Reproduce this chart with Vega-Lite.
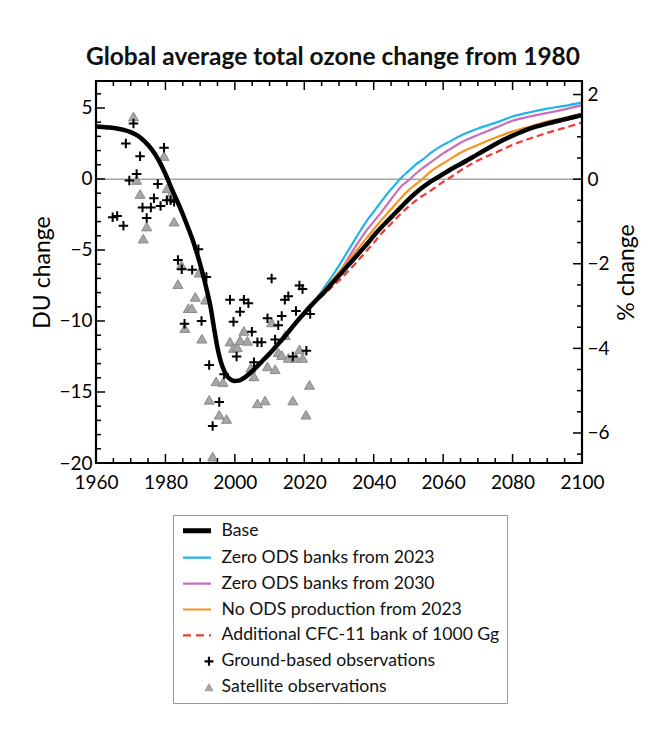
{
  "$schema": "https://vega.github.io/schema/vega-lite/v6.json",
  "width": 486,
  "height": 382,
  "autosize": {"type": "none"},
  "padding": {"left": 96, "top": 81, "right": 66, "bottom": 286},
  "background": "white",
  "title": {
    "text": "Global average total ozone change from 1980",
    "font": "Lato",
    "fontSize": 24.5,
    "fontWeight": "bold",
    "color": "#111111",
    "offset": 9,
    "anchor": "middle",
    "dx": -6
  },
  "datasets": {
    "scenarios": [
      {"series": "Base", "year": 1960, "du": 3.7},
      {"series": "Base", "year": 1962, "du": 3.66},
      {"series": "Base", "year": 1964, "du": 3.62},
      {"series": "Base", "year": 1966, "du": 3.56},
      {"series": "Base", "year": 1968, "du": 3.46},
      {"series": "Base", "year": 1970, "du": 3.3},
      {"series": "Base", "year": 1972, "du": 3.05},
      {"series": "Base", "year": 1974, "du": 2.65},
      {"series": "Base", "year": 1976, "du": 2.1},
      {"series": "Base", "year": 1978, "du": 1.35},
      {"series": "Base", "year": 1980, "du": 0.35},
      {"series": "Base", "year": 1982, "du": -0.8},
      {"series": "Base", "year": 1984, "du": -1.9},
      {"series": "Base", "year": 1986, "du": -3.1},
      {"series": "Base", "year": 1988, "du": -4.4},
      {"series": "Base", "year": 1990, "du": -6.0},
      {"series": "Base", "year": 1992, "du": -7.9},
      {"series": "Base", "year": 1993, "du": -9.0},
      {"series": "Base", "year": 1994, "du": -10.5},
      {"series": "Base", "year": 1995, "du": -11.9},
      {"series": "Base", "year": 1996, "du": -12.9},
      {"series": "Base", "year": 1997, "du": -13.55},
      {"series": "Base", "year": 1998, "du": -13.95},
      {"series": "Base", "year": 1999, "du": -14.15},
      {"series": "Base", "year": 2000, "du": -14.22},
      {"series": "Base", "year": 2001, "du": -14.2},
      {"series": "Base", "year": 2002, "du": -14.1},
      {"series": "Base", "year": 2003, "du": -13.95},
      {"series": "Base", "year": 2004, "du": -13.75},
      {"series": "Base", "year": 2006, "du": -13.3},
      {"series": "Base", "year": 2008, "du": -12.8},
      {"series": "Base", "year": 2010, "du": -12.3},
      {"series": "Base", "year": 2012, "du": -11.75},
      {"series": "Base", "year": 2014, "du": -11.2},
      {"series": "Base", "year": 2016, "du": -10.6},
      {"series": "Base", "year": 2018, "du": -10.0},
      {"series": "Base", "year": 2020, "du": -9.45},
      {"series": "Base", "year": 2022, "du": -8.9},
      {"series": "Base", "year": 2024, "du": -8.4},
      {"series": "Base", "year": 2026, "du": -7.9},
      {"series": "Base", "year": 2028, "du": -7.35},
      {"series": "Base", "year": 2030, "du": -6.8},
      {"series": "Base", "year": 2032, "du": -6.25},
      {"series": "Base", "year": 2034, "du": -5.7},
      {"series": "Base", "year": 2036, "du": -5.15},
      {"series": "Base", "year": 2038, "du": -4.6},
      {"series": "Base", "year": 2040, "du": -4.0},
      {"series": "Base", "year": 2042, "du": -3.45},
      {"series": "Base", "year": 2044, "du": -2.95},
      {"series": "Base", "year": 2046, "du": -2.45},
      {"series": "Base", "year": 2048, "du": -1.95},
      {"series": "Base", "year": 2050, "du": -1.45},
      {"series": "Base", "year": 2052, "du": -1.0},
      {"series": "Base", "year": 2054, "du": -0.6},
      {"series": "Base", "year": 2056, "du": -0.25},
      {"series": "Base", "year": 2058, "du": 0.05},
      {"series": "Base", "year": 2060, "du": 0.35},
      {"series": "Base", "year": 2062, "du": 0.65},
      {"series": "Base", "year": 2065, "du": 1.05},
      {"series": "Base", "year": 2070, "du": 1.75},
      {"series": "Base", "year": 2075, "du": 2.45},
      {"series": "Base", "year": 2080, "du": 3.05},
      {"series": "Base", "year": 2085, "du": 3.55},
      {"series": "Base", "year": 2090, "du": 3.9},
      {"series": "Base", "year": 2095, "du": 4.2},
      {"series": "Base", "year": 2100, "du": 4.5},

      {"series": "Zero ODS banks from 2023", "year": 2022, "du": -8.9},
      {"series": "Zero ODS banks from 2023", "year": 2024, "du": -8.25},
      {"series": "Zero ODS banks from 2023", "year": 2026, "du": -7.55},
      {"series": "Zero ODS banks from 2023", "year": 2028, "du": -6.85},
      {"series": "Zero ODS banks from 2023", "year": 2030, "du": -6.1},
      {"series": "Zero ODS banks from 2023", "year": 2032, "du": -5.3},
      {"series": "Zero ODS banks from 2023", "year": 2034, "du": -4.5},
      {"series": "Zero ODS banks from 2023", "year": 2036, "du": -3.7},
      {"series": "Zero ODS banks from 2023", "year": 2038, "du": -2.95},
      {"series": "Zero ODS banks from 2023", "year": 2040, "du": -2.3},
      {"series": "Zero ODS banks from 2023", "year": 2042, "du": -1.65},
      {"series": "Zero ODS banks from 2023", "year": 2044, "du": -1.0},
      {"series": "Zero ODS banks from 2023", "year": 2046, "du": -0.45},
      {"series": "Zero ODS banks from 2023", "year": 2048, "du": 0.1},
      {"series": "Zero ODS banks from 2023", "year": 2050, "du": 0.55},
      {"series": "Zero ODS banks from 2023", "year": 2052, "du": 1.0},
      {"series": "Zero ODS banks from 2023", "year": 2054, "du": 1.35},
      {"series": "Zero ODS banks from 2023", "year": 2056, "du": 1.75},
      {"series": "Zero ODS banks from 2023", "year": 2058, "du": 2.1},
      {"series": "Zero ODS banks from 2023", "year": 2060, "du": 2.4},
      {"series": "Zero ODS banks from 2023", "year": 2062, "du": 2.65},
      {"series": "Zero ODS banks from 2023", "year": 2065, "du": 3.05},
      {"series": "Zero ODS banks from 2023", "year": 2070, "du": 3.55},
      {"series": "Zero ODS banks from 2023", "year": 2075, "du": 3.95},
      {"series": "Zero ODS banks from 2023", "year": 2080, "du": 4.4},
      {"series": "Zero ODS banks from 2023", "year": 2085, "du": 4.7},
      {"series": "Zero ODS banks from 2023", "year": 2090, "du": 4.95},
      {"series": "Zero ODS banks from 2023", "year": 2095, "du": 5.15},
      {"series": "Zero ODS banks from 2023", "year": 2100, "du": 5.4},

      {"series": "Zero ODS banks from 2030", "year": 2022, "du": -8.9},
      {"series": "Zero ODS banks from 2030", "year": 2024, "du": -8.4},
      {"series": "Zero ODS banks from 2030", "year": 2026, "du": -7.85},
      {"series": "Zero ODS banks from 2030", "year": 2028, "du": -7.2},
      {"series": "Zero ODS banks from 2030", "year": 2030, "du": -6.6},
      {"series": "Zero ODS banks from 2030", "year": 2032, "du": -5.85},
      {"series": "Zero ODS banks from 2030", "year": 2034, "du": -5.05},
      {"series": "Zero ODS banks from 2030", "year": 2036, "du": -4.3},
      {"series": "Zero ODS banks from 2030", "year": 2038, "du": -3.6},
      {"series": "Zero ODS banks from 2030", "year": 2040, "du": -3.0},
      {"series": "Zero ODS banks from 2030", "year": 2042, "du": -2.4},
      {"series": "Zero ODS banks from 2030", "year": 2044, "du": -1.75},
      {"series": "Zero ODS banks from 2030", "year": 2046, "du": -1.1},
      {"series": "Zero ODS banks from 2030", "year": 2048, "du": -0.5},
      {"series": "Zero ODS banks from 2030", "year": 2050, "du": -0.1},
      {"series": "Zero ODS banks from 2030", "year": 2052, "du": 0.35},
      {"series": "Zero ODS banks from 2030", "year": 2054, "du": 0.75},
      {"series": "Zero ODS banks from 2030", "year": 2056, "du": 1.1},
      {"series": "Zero ODS banks from 2030", "year": 2058, "du": 1.45},
      {"series": "Zero ODS banks from 2030", "year": 2060, "du": 1.8},
      {"series": "Zero ODS banks from 2030", "year": 2062, "du": 2.1},
      {"series": "Zero ODS banks from 2030", "year": 2065, "du": 2.55},
      {"series": "Zero ODS banks from 2030", "year": 2070, "du": 3.1},
      {"series": "Zero ODS banks from 2030", "year": 2075, "du": 3.6},
      {"series": "Zero ODS banks from 2030", "year": 2080, "du": 4.1},
      {"series": "Zero ODS banks from 2030", "year": 2085, "du": 4.4},
      {"series": "Zero ODS banks from 2030", "year": 2090, "du": 4.65},
      {"series": "Zero ODS banks from 2030", "year": 2095, "du": 4.9},
      {"series": "Zero ODS banks from 2030", "year": 2100, "du": 5.2},

      {"series": "No ODS production from 2023", "year": 2022, "du": -8.9},
      {"series": "No ODS production from 2023", "year": 2024, "du": -8.35},
      {"series": "No ODS production from 2023", "year": 2026, "du": -7.75},
      {"series": "No ODS production from 2023", "year": 2028, "du": -7.15},
      {"series": "No ODS production from 2023", "year": 2030, "du": -6.55},
      {"series": "No ODS production from 2023", "year": 2032, "du": -5.95},
      {"series": "No ODS production from 2023", "year": 2034, "du": -5.35},
      {"series": "No ODS production from 2023", "year": 2036, "du": -4.75},
      {"series": "No ODS production from 2023", "year": 2038, "du": -4.15},
      {"series": "No ODS production from 2023", "year": 2040, "du": -3.55},
      {"series": "No ODS production from 2023", "year": 2042, "du": -2.95},
      {"series": "No ODS production from 2023", "year": 2044, "du": -2.4},
      {"series": "No ODS production from 2023", "year": 2046, "du": -1.85},
      {"series": "No ODS production from 2023", "year": 2048, "du": -1.3},
      {"series": "No ODS production from 2023", "year": 2050, "du": -0.8},
      {"series": "No ODS production from 2023", "year": 2052, "du": -0.4},
      {"series": "No ODS production from 2023", "year": 2054, "du": 0.0},
      {"series": "No ODS production from 2023", "year": 2056, "du": 0.45},
      {"series": "No ODS production from 2023", "year": 2058, "du": 0.8},
      {"series": "No ODS production from 2023", "year": 2060, "du": 1.1},
      {"series": "No ODS production from 2023", "year": 2062, "du": 1.4},
      {"series": "No ODS production from 2023", "year": 2065, "du": 1.85},
      {"series": "No ODS production from 2023", "year": 2070, "du": 2.4},
      {"series": "No ODS production from 2023", "year": 2075, "du": 2.9},
      {"series": "No ODS production from 2023", "year": 2080, "du": 3.35},
      {"series": "No ODS production from 2023", "year": 2085, "du": 3.7},
      {"series": "No ODS production from 2023", "year": 2090, "du": 4.05},
      {"series": "No ODS production from 2023", "year": 2095, "du": 4.3},
      {"series": "No ODS production from 2023", "year": 2100, "du": 4.6},

      {"series": "Additional CFC-11 bank of 1000 Gg", "year": 2022, "du": -8.9},
      {"series": "Additional CFC-11 bank of 1000 Gg", "year": 2024, "du": -8.5},
      {"series": "Additional CFC-11 bank of 1000 Gg", "year": 2026, "du": -8.05},
      {"series": "Additional CFC-11 bank of 1000 Gg", "year": 2028, "du": -7.6},
      {"series": "Additional CFC-11 bank of 1000 Gg", "year": 2030, "du": -7.15},
      {"series": "Additional CFC-11 bank of 1000 Gg", "year": 2032, "du": -6.65},
      {"series": "Additional CFC-11 bank of 1000 Gg", "year": 2034, "du": -6.15},
      {"series": "Additional CFC-11 bank of 1000 Gg", "year": 2036, "du": -5.6},
      {"series": "Additional CFC-11 bank of 1000 Gg", "year": 2038, "du": -5.05},
      {"series": "Additional CFC-11 bank of 1000 Gg", "year": 2040, "du": -4.5},
      {"series": "Additional CFC-11 bank of 1000 Gg", "year": 2042, "du": -3.9},
      {"series": "Additional CFC-11 bank of 1000 Gg", "year": 2044, "du": -3.4},
      {"series": "Additional CFC-11 bank of 1000 Gg", "year": 2046, "du": -2.9},
      {"series": "Additional CFC-11 bank of 1000 Gg", "year": 2048, "du": -2.4},
      {"series": "Additional CFC-11 bank of 1000 Gg", "year": 2050, "du": -1.95},
      {"series": "Additional CFC-11 bank of 1000 Gg", "year": 2052, "du": -1.55},
      {"series": "Additional CFC-11 bank of 1000 Gg", "year": 2054, "du": -1.2},
      {"series": "Additional CFC-11 bank of 1000 Gg", "year": 2056, "du": -0.9},
      {"series": "Additional CFC-11 bank of 1000 Gg", "year": 2058, "du": -0.55},
      {"series": "Additional CFC-11 bank of 1000 Gg", "year": 2060, "du": -0.2},
      {"series": "Additional CFC-11 bank of 1000 Gg", "year": 2062, "du": 0.1},
      {"series": "Additional CFC-11 bank of 1000 Gg", "year": 2065, "du": 0.6},
      {"series": "Additional CFC-11 bank of 1000 Gg", "year": 2070, "du": 1.3},
      {"series": "Additional CFC-11 bank of 1000 Gg", "year": 2075, "du": 1.85},
      {"series": "Additional CFC-11 bank of 1000 Gg", "year": 2080, "du": 2.4},
      {"series": "Additional CFC-11 bank of 1000 Gg", "year": 2085, "du": 2.85},
      {"series": "Additional CFC-11 bank of 1000 Gg", "year": 2090, "du": 3.25},
      {"series": "Additional CFC-11 bank of 1000 Gg", "year": 2095, "du": 3.6},
      {"series": "Additional CFC-11 bank of 1000 Gg", "year": 2100, "du": 3.98}
    ],
    "ground": [
      {"year": 1964.8, "du": -2.7}, {"year": 1966.1, "du": -2.6}, {"year": 1967.9, "du": -3.3},
      {"year": 1968.6, "du": 2.5}, {"year": 1969.6, "du": -0.1}, {"year": 1970.8, "du": 3.9},
      {"year": 1971.7, "du": 0.35}, {"year": 1972.7, "du": 1.6}, {"year": 1973.4, "du": -2.0},
      {"year": 1974.6, "du": -2.75}, {"year": 1975.8, "du": -2.0}, {"year": 1976.7, "du": -1.35},
      {"year": 1977.8, "du": -0.35}, {"year": 1978.6, "du": -1.9}, {"year": 1979.6, "du": 2.2},
      {"year": 1980.4, "du": -1.5}, {"year": 1981.5, "du": -1.5}, {"year": 1982.5, "du": -1.6},
      {"year": 1983.6, "du": -5.7}, {"year": 1984.7, "du": -6.35}, {"year": 1985.5, "du": -10.2},
      {"year": 1987.7, "du": -6.4}, {"year": 1989.5, "du": -4.95}, {"year": 1990.4, "du": -10.0},
      {"year": 1991.8, "du": -6.9}, {"year": 1992.6, "du": -13.1}, {"year": 1993.6, "du": -17.4},
      {"year": 1995.5, "du": -15.7}, {"year": 1996.9, "du": -13.75}, {"year": 1998.6, "du": -8.5},
      {"year": 1999.6, "du": -10.05}, {"year": 2000.5, "du": -12.5}, {"year": 2001.5, "du": -9.35},
      {"year": 2002.6, "du": -8.5}, {"year": 2003.9, "du": -8.75}, {"year": 2004.9, "du": -10.75},
      {"year": 2005.5, "du": -12.9}, {"year": 2006.5, "du": -11.5}, {"year": 2007.7, "du": -11.5},
      {"year": 2009.4, "du": -9.8}, {"year": 2010.6, "du": -7.0}, {"year": 2011.6, "du": -11.3},
      {"year": 2012.5, "du": -10.3}, {"year": 2013.5, "du": -9.65}, {"year": 2014.4, "du": -8.5},
      {"year": 2015.4, "du": -8.25}, {"year": 2016.7, "du": -12.5}, {"year": 2017.6, "du": -9.3},
      {"year": 2018.6, "du": -7.5}, {"year": 2019.5, "du": -7.75}, {"year": 2020.6, "du": -12.1},
      {"year": 2021.7, "du": -9.5}
    ],
    "satellite": [
      {"year": 1970.8, "du": 4.4}, {"year": 1971.7, "du": -0.07}, {"year": 1972.7, "du": -1.06},
      {"year": 1973.6, "du": -4.2}, {"year": 1974.6, "du": -3.35}, {"year": 1979.6, "du": 1.62},
      {"year": 1980.5, "du": -0.66}, {"year": 1981.5, "du": -1.13}, {"year": 1982.5, "du": -3.0},
      {"year": 1983.6, "du": -7.4}, {"year": 1984.6, "du": -6.06}, {"year": 1985.6, "du": -10.5},
      {"year": 1986.6, "du": -9.1}, {"year": 1987.6, "du": -9.1}, {"year": 1988.6, "du": -8.3},
      {"year": 1989.7, "du": -6.6}, {"year": 1990.5, "du": -11.25}, {"year": 1991.6, "du": -8.5},
      {"year": 1992.6, "du": -15.55}, {"year": 1993.6, "du": -19.55}, {"year": 1994.6, "du": -14.25},
      {"year": 1995.5, "du": -16.6}, {"year": 1996.6, "du": -14.3}, {"year": 1997.6, "du": -16.9},
      {"year": 1998.6, "du": -11.45}, {"year": 1999.6, "du": -11.9}, {"year": 2000.7, "du": -11.85},
      {"year": 2001.5, "du": -11.35}, {"year": 2002.6, "du": -10.7}, {"year": 2003.6, "du": -11.4},
      {"year": 2004.6, "du": -13.3}, {"year": 2005.5, "du": -13.9}, {"year": 2006.5, "du": -15.8},
      {"year": 2008.7, "du": -15.6}, {"year": 2009.4, "du": -13.2}, {"year": 2010.6, "du": -10.1},
      {"year": 2011.6, "du": -13.4}, {"year": 2012.5, "du": -12.2}, {"year": 2013.5, "du": -12.4},
      {"year": 2014.5, "du": -11.0}, {"year": 2015.4, "du": -12.6}, {"year": 2016.7, "du": -15.6},
      {"year": 2017.6, "du": -12.6}, {"year": 2018.6, "du": -12.0}, {"year": 2019.5, "du": -12.6},
      {"year": 2020.5, "du": -16.6}, {"year": 2021.5, "du": -14.5}
    ],
    "reference": [
      {"pct": 0}
    ],
    "frame": [
      {"x0": 1960, "x1": 2100, "y0": -20, "y1": 6.9}
    ],
    "yearTicks": [
      {"year": 1960, "kind": "major"}, {"year": 1965, "kind": "minor"}, {"year": 1970, "kind": "minor"}, {"year": 1975, "kind": "minor"},
      {"year": 1980, "kind": "major"}, {"year": 1985, "kind": "minor"}, {"year": 1990, "kind": "minor"}, {"year": 1995, "kind": "minor"},
      {"year": 2000, "kind": "major"}, {"year": 2005, "kind": "minor"}, {"year": 2010, "kind": "minor"}, {"year": 2015, "kind": "minor"},
      {"year": 2020, "kind": "major"}, {"year": 2025, "kind": "minor"}, {"year": 2030, "kind": "minor"}, {"year": 2035, "kind": "minor"},
      {"year": 2040, "kind": "major"}, {"year": 2045, "kind": "minor"}, {"year": 2050, "kind": "minor"}, {"year": 2055, "kind": "minor"},
      {"year": 2060, "kind": "major"}, {"year": 2065, "kind": "minor"}, {"year": 2070, "kind": "minor"}, {"year": 2075, "kind": "minor"},
      {"year": 2080, "kind": "major"}, {"year": 2085, "kind": "minor"}, {"year": 2090, "kind": "minor"}, {"year": 2095, "kind": "minor"},
      {"year": 2100, "kind": "major"}
    ],
    "duTicks": [
      {"du": -20, "kind": "major"}, {"du": -19, "kind": "minor"}, {"du": -18, "kind": "minor"}, {"du": -17, "kind": "minor"}, {"du": -16, "kind": "minor"},
      {"du": -15, "kind": "major"}, {"du": -14, "kind": "minor"}, {"du": -13, "kind": "minor"}, {"du": -12, "kind": "minor"}, {"du": -11, "kind": "minor"},
      {"du": -10, "kind": "major"}, {"du": -9, "kind": "minor"}, {"du": -8, "kind": "minor"}, {"du": -7, "kind": "minor"}, {"du": -6, "kind": "minor"},
      {"du": -5, "kind": "major"}, {"du": -4, "kind": "minor"}, {"du": -3, "kind": "minor"}, {"du": -2, "kind": "minor"}, {"du": -1, "kind": "minor"},
      {"du": 0, "kind": "major"}, {"du": 1, "kind": "minor"}, {"du": 2, "kind": "minor"}, {"du": 3, "kind": "minor"}, {"du": 4, "kind": "minor"},
      {"du": 5, "kind": "major"}, {"du": 6, "kind": "minor"}
    ],
    "pctTicks": [
      {"pct": -6.5, "kind": "minor"}, {"pct": -6, "kind": "major"}, {"pct": -5.5, "kind": "minor"}, {"pct": -5, "kind": "minor"},
      {"pct": -4.5, "kind": "minor"}, {"pct": -4, "kind": "major"}, {"pct": -3.5, "kind": "minor"}, {"pct": -3, "kind": "minor"},
      {"pct": -2.5, "kind": "minor"}, {"pct": -2, "kind": "major"}, {"pct": -1.5, "kind": "minor"}, {"pct": -1, "kind": "minor"},
      {"pct": -0.5, "kind": "minor"}, {"pct": 0, "kind": "major"}, {"pct": 0.5, "kind": "minor"}, {"pct": 1, "kind": "minor"},
      {"pct": 1.5, "kind": "minor"}, {"pct": 2, "kind": "major"}
    ]
  },
  "resolve": {
    "scale": {"y": "independent"},
    "axis": {"x": "independent", "y": "independent"}
  },
  "layer": [
    {
      "data": {"name": "reference"},
      "mark": {"type": "rule", "color": "#a3a3a3", "strokeWidth": 1.5},
      "encoding": {
        "y": {
          "field": "pct",
          "type": "quantitative",
          "scale": {"domain": [-6.71, 2.32], "nice": false, "zero": false},
          "axis": {
            "orient": "right",
            "title": "% change",
            "titleAngle": 270,
            "titleBaseline": "top",
            "titlePadding": 6,
            "values": [-6, -4, -2, 0, 2],
            "format": "d",
            "ticks": false,
            "domain": false,
            "labelPadding": 5
          }
        }
      }
    },
    {
      "data": {"name": "satellite"},
      "mark": {"type": "point", "shape": "triangle-up", "filled": true, "fill": "#a6a6a6", "stroke": "#8a8a8a", "strokeWidth": 1, "size": 100, "opacity": 1},
      "encoding": {
        "x": {"field": "year", "type": "quantitative", "scale": {"domain": [1960, 2100], "nice": false, "zero": false}, "axis": null},
        "y": {
          "field": "du",
          "type": "quantitative",
          "scale": {"domain": [-20, 6.9], "nice": false, "zero": false},
          "axis": {
            "orient": "left",
            "title": "DU change",
            "titlePadding": 4,
            "values": [-20, -15, -10, -5, 0, 5],
            "format": "d",
            "ticks": false,
            "domain": false,
            "labelPadding": 4
          }
        }
      }
    },
    {
      "data": {"name": "ground"},
      "mark": {"type": "point", "shape": "M-1,0H1M0,-1V1", "filled": false, "stroke": "#000000", "strokeWidth": 2, "size": 90, "opacity": 1},
      "encoding": {
        "x": {"field": "year", "type": "quantitative", "scale": {"domain": [1960, 2100], "nice": false, "zero": false}, "axis": null},
        "y": {"field": "du", "type": "quantitative", "scale": {"domain": [-20, 6.9], "nice": false, "zero": false}, "axis": null}
      }
    },
    {
      "data": {"name": "scenarios"},
      "transform": [{"filter": "datum.series !== 'Base' && datum.series !== 'Additional CFC-11 bank of 1000 Gg'"}],
      "mark": {"type": "line", "strokeWidth": 2.2, "interpolate": "monotone"},
      "encoding": {
        "x": {
          "field": "year",
          "type": "quantitative",
          "scale": {"domain": [1960, 2100], "nice": false, "zero": false},
          "axis": {
            "orient": "bottom",
            "title": null,
            "values": [1960, 1980, 2000, 2020, 2040, 2060, 2080, 2100],
            "format": "d",
            "ticks": false,
            "domain": false,
            "labelPadding": 10
          }
        },
        "y": {"field": "du", "type": "quantitative", "scale": {"domain": [-20, 6.9], "nice": false, "zero": false}, "axis": null},
        "color": {
          "field": "series",
          "type": "nominal",
          "sort": null,
          "scale": {
            "domain": ["Base", "Zero ODS banks from 2023", "Zero ODS banks from 2030", "No ODS production from 2023", "Additional CFC-11 bank of 1000 Gg", "Ground-based observations", "Satellite observations"],
            "range": ["#000000", "#1eb4e8", "#c66fbb", "#f7941d", "#ee3b36", "#000000", "#a6a6a6"]
          },
          "legend": {
            "orient": "none",
            "legendX": 77,
            "legendY": 434,
            "title": null,
            "padding": 7,
            "strokeColor": "#9a9a9a",
            "symbolType": "stroke",
            "symbolSize": 400,
            "rowPadding": 6.9,
            "labelOffset": 21,
            "symbolOffset": 3,
            "labelFont": "Lato",
            "labelFontSize": 17.6,
            "labelColor": "#111111",
            "labelLimit": 400,
            "encode": {
              "symbols": {
                "update": {
                  "shape": {"signal": "datum.value === 'Ground-based observations' ? 'M-1,0H1M0,-1V1' : datum.value === 'Satellite observations' ? 'triangle-up' : 'stroke'"},
                  "size": {"signal": "datum.value === 'Ground-based observations' ? 80 : datum.value === 'Satellite observations' ? 70 : 784"},
                  "x": {"signal": "datum.value === 'Ground-based observations' || datum.value === 'Satellite observations' ? 29 : 17"},
                  "strokeWidth": {"signal": "datum.value === 'Base' ? 5 : datum.value === 'Satellite observations' ? 1 : 2.2"},
                  "strokeDash": {"signal": "datum.value === 'Additional CFC-11 bank of 1000 Gg' ? [8, 5] : [1, 0]"},
                  "fill": {"signal": "datum.value === 'Satellite observations' ? '#a6a6a6' : 'transparent'"},
                  "stroke": {"signal": "datum.value === 'Satellite observations' ? '#8a8a8a' : scale('color', datum.value)"},
                  "opacity": {"value": 1}
                }
              }
            }
          }
        }
      }
    },
    {
      "data": {"name": "scenarios"},
      "transform": [{"filter": "datum.series === 'Additional CFC-11 bank of 1000 Gg'"}],
      "mark": {"type": "line", "strokeWidth": 2.2, "strokeDash": [7, 4], "interpolate": "monotone"},
      "encoding": {
        "x": {"field": "year", "type": "quantitative", "scale": {"domain": [1960, 2100], "nice": false, "zero": false}, "axis": null},
        "y": {"field": "du", "type": "quantitative", "scale": {"domain": [-20, 6.9], "nice": false, "zero": false}, "axis": null},
        "color": {
          "field": "series",
          "type": "nominal",
          "sort": null,
          "scale": {
            "domain": ["Base", "Zero ODS banks from 2023", "Zero ODS banks from 2030", "No ODS production from 2023", "Additional CFC-11 bank of 1000 Gg", "Ground-based observations", "Satellite observations"],
            "range": ["#000000", "#1eb4e8", "#c66fbb", "#f7941d", "#ee3b36", "#000000", "#a6a6a6"]
          },
          "legend": null
        }
      }
    },
    {
      "data": {"name": "scenarios"},
      "transform": [{"filter": "datum.series === 'Base'"}],
      "mark": {"type": "line", "strokeWidth": 4.5, "interpolate": "monotone"},
      "encoding": {
        "x": {"field": "year", "type": "quantitative", "scale": {"domain": [1960, 2100], "nice": false, "zero": false}, "axis": null},
        "y": {"field": "du", "type": "quantitative", "scale": {"domain": [-20, 6.9], "nice": false, "zero": false}, "axis": null},
        "color": {
          "field": "series",
          "type": "nominal",
          "sort": null,
          "scale": {
            "domain": ["Base", "Zero ODS banks from 2023", "Zero ODS banks from 2030", "No ODS production from 2023", "Additional CFC-11 bank of 1000 Gg", "Ground-based observations", "Satellite observations"],
            "range": ["#000000", "#1eb4e8", "#c66fbb", "#f7941d", "#ee3b36", "#000000", "#a6a6a6"]
          },
          "legend": null
        }
      }
    },
    {
      "data": {"name": "yearTicks"},
      "mark": {"type": "tick", "orient": "vertical", "color": "#000000", "thickness": 1.5, "clip": true, "opacity": 1},
      "encoding": {
        "x": {"field": "year", "type": "quantitative", "scale": {"domain": [1960, 2100], "nice": false, "zero": false}, "axis": null},
        "y": {"datum": -20, "type": "quantitative", "scale": {"domain": [-20, 6.9], "nice": false, "zero": false}, "axis": null},
        "size": {"field": "kind", "type": "nominal", "scale": {"domain": ["major", "minor"], "range": [18, 10]}, "legend": null}
      }
    },
    {
      "data": {"name": "yearTicks"},
      "mark": {"type": "tick", "orient": "vertical", "color": "#000000", "thickness": 1.5, "clip": true, "opacity": 1},
      "encoding": {
        "x": {"field": "year", "type": "quantitative", "scale": {"domain": [1960, 2100], "nice": false, "zero": false}, "axis": null},
        "y": {"datum": 6.9, "type": "quantitative", "scale": {"domain": [-20, 6.9], "nice": false, "zero": false}, "axis": null},
        "size": {"field": "kind", "type": "nominal", "scale": {"domain": ["major", "minor"], "range": [18, 10]}, "legend": null}
      }
    },
    {
      "data": {"name": "duTicks"},
      "mark": {"type": "tick", "orient": "horizontal", "color": "#000000", "thickness": 1.5, "clip": true, "opacity": 1},
      "encoding": {
        "x": {"datum": 1960, "type": "quantitative", "scale": {"domain": [1960, 2100], "nice": false, "zero": false}, "axis": null},
        "y": {"field": "du", "type": "quantitative", "scale": {"domain": [-20, 6.9], "nice": false, "zero": false}, "axis": null},
        "size": {"field": "kind", "type": "nominal", "scale": {"domain": ["major", "minor"], "range": [18, 10]}, "legend": null}
      }
    },
    {
      "data": {"name": "pctTicks"},
      "mark": {"type": "tick", "orient": "horizontal", "color": "#000000", "thickness": 1.5, "clip": true, "opacity": 1},
      "encoding": {
        "x": {"datum": 2100, "type": "quantitative", "scale": {"domain": [1960, 2100], "nice": false, "zero": false}, "axis": null},
        "y": {"field": "pct", "type": "quantitative", "scale": {"domain": [-6.71, 2.32], "nice": false, "zero": false}, "axis": null},
        "size": {"field": "kind", "type": "nominal", "scale": {"domain": ["major", "minor"], "range": [18, 10]}, "legend": null}
      }
    },
    {
      "data": {"name": "frame"},
      "mark": {"type": "rect", "fill": null, "fillOpacity": 0, "stroke": "#000000", "strokeWidth": 2.2, "opacity": 1},
      "encoding": {
        "x": {"field": "x0", "type": "quantitative", "scale": {"domain": [1960, 2100], "nice": false, "zero": false}, "axis": null},
        "x2": {"field": "x1"},
        "y": {"field": "y0", "type": "quantitative", "scale": {"domain": [-20, 6.9], "nice": false, "zero": false}, "axis": null},
        "y2": {"field": "y1"}
      }
    }
  ],
  "config": {
    "font": "Lato",
    "view": {"stroke": "#000000", "strokeWidth": 1.8},
    "axis": {
      "grid": false,
      "labelFont": "Lato",
      "labelFontSize": 19,
      "labelColor": "#000000",
      "labelFlush": false,
      "labelOverlap": false,
      "titleFont": "Lato",
      "titleFontSize": 23,
      "titleFontWeight": "normal",
      "titleColor": "#000000"
    }
  }
}
